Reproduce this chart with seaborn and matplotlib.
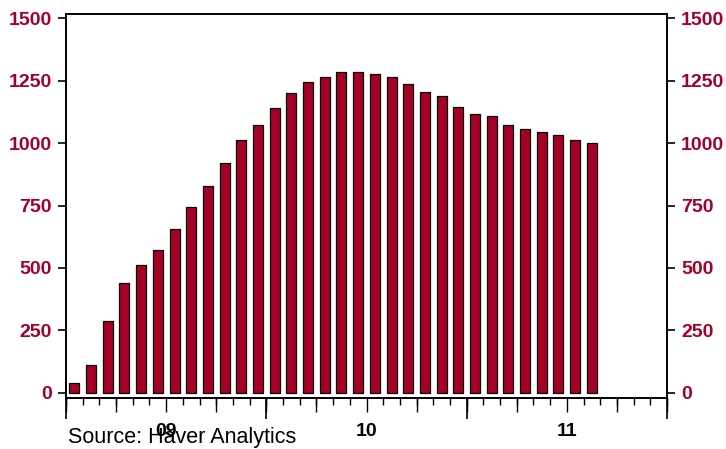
import numpy as np
import pandas as pd
import matplotlib
matplotlib.use("Agg")
import matplotlib.pyplot as plt
import seaborn as sns

# monthly values, Jan 2009 - Aug 2011
months = pd.date_range("2009-01-01", periods=32, freq="MS").strftime("%Y-%m").tolist()
values = [38, 111, 288, 438, 512, 570, 654, 743, 828, 920, 1011, 1074,
          1139, 1201, 1243, 1266, 1286, 1286, 1278, 1263, 1235, 1206, 1189, 1146,
          1117, 1109, 1074, 1055, 1043, 1031, 1011, 1002]
year_labels = ["09", "10", "11"]
y_ticks = [0, 250, 500, 750, 1000, 1250, 1500]

red = "#A50026"
sns.set_style("white")
plt.rcParams["font.family"] = ["Liberation Sans", "DejaVu Sans"]

fig = plt.figure(figsize=(7.26, 4.49), dpi=100)
ax = fig.add_axes([66 / 726, 1 - 398 / 449, 601 / 726, 384 / 449])

df = pd.DataFrame({"month": months, "value": values})
sns.barplot(data=df, x="month", y="value", order=months, color=red,
            saturation=1, width=0.6, edgecolor="black", linewidth=0.9, ax=ax)

ax.set_xlim(-0.5, 35.5)
ax.set_ylim(-21, 1517)
ax.set_xlabel("")
ax.set_ylabel("")

for s in ax.spines.values():
    s.set_visible(True)
    s.set_color("black")
    s.set_linewidth(1.4)

# y axis on both sides
ax.set_yticks(y_ticks)
ax.set_yticklabels([str(v) for v in y_ticks])
ax.tick_params(axis="y", left=True, right=True, labelleft=True, labelright=True,
               direction="out", length=6, width=1.2, pad=4, colors="black",
               labelcolor=red, labelsize=14)
for lab in ax.get_yticklabels():
    lab.set_fontweight("bold")

# x axis: year labels centred, monthly minor ticks
n_months = 36
ax.set_xticks([5.5, 17.5, 29.5])
ax.set_xticklabels(year_labels, fontweight="bold", fontsize=14)
ax.tick_params(axis="x", which="major", length=0, pad=18, labelcolor="black")
ax.set_xticks(np.arange(-0.5, n_months, 1), minor=True)
ax.tick_params(axis="x", which="minor", bottom=True, direction="out", length=5,
               width=1, color="black")

# quarter and year ticks
sec_q = ax.secondary_xaxis("bottom")
sec_q.set_xticks(np.arange(-0.5, n_months, 3))
sec_q.set_xticklabels([])
sec_q.tick_params(direction="out", length=10, width=1, color="black")
sec_q.spines["bottom"].set_visible(False)

sec_y = ax.secondary_xaxis("bottom")
sec_y.set_xticks(np.arange(-0.5, n_months + 1, 12))
sec_y.set_xticklabels([])
sec_y.tick_params(direction="out", length=15, width=1.2, color="black")
sec_y.spines["bottom"].set_visible(False)

fig.text(68 / 726, 1 - 438 / 449, "Source: Haver Analytics", fontsize=15.5,
         ha="left", va="center", color="black")

fig.savefig("out.png", dpi=100)
